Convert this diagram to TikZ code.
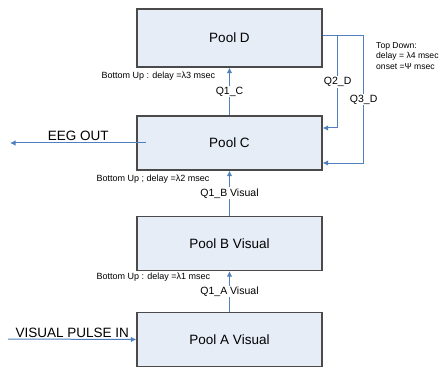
\documentclass[tikz,border=0pt]{standalone}
\usepackage{fontspec}
\setmainfont{Liberation Sans}
\usepackage{tikz}
\usetikzlibrary{positioning,arrows.meta}
\definecolor{poolfill}{HTML}{E6EDF7}
\definecolor{poolline}{HTML}{4A4A4A}
\definecolor{flowblue}{HTML}{4F7FBF}
\tikzset{
  pool/.style={draw=poolline, fill=poolfill, line width=1.3pt, minimum width=185pt, minimum height=54pt, inner sep=0pt, font=\fontsize{13.5}{16}\selectfont},
  feed/.style={draw=flowblue, line width=1pt, -{Latex[length=5.5pt,width=5.5pt]}},
  qlabel/.style={fill=white, inner sep=1pt, font=\fontsize{10.5}{12}\selectfont},
  delaynote/.style={anchor=north west, inner sep=0pt, align=left, font=\fontsize{9}{10.5}\selectfont},
  iolabel/.style={above, inner sep=1.5pt, font=\fontsize{13.5}{16}\selectfont}
}

\begin{document}
\begin{tikzpicture}[x=1pt, y=1pt]
  \useasboundingbox (0,0) rectangle (443,367);

  % pools, bottom to top
  \node[pool] (poolA) at (229.5,27.5) {Pool A Visual};
  \node[pool] (poolB) at (229.5,123.5) {Pool B Visual};
  \node[pool] (poolC) at (229.5,224) {Pool C};
  \node[pool, minimum height=58pt] (poolD) at (229.5,329) {Pool D};

  % bottom up
  \draw[feed] (poolA) -- node[qlabel] {Q1\_A Visual} (poolB);
  \draw[feed] (poolB) -- node[qlabel] {Q1\_B Visual} (poolC);
  \draw[feed] (poolC) -- node[qlabel] {Q1\_C} (poolD);
  \node[delaynote] (delayB) at ([xshift=-40pt,yshift=-2pt]poolB.south west) {Bottom Up : delay =λ1 msec};
  \node[delaynote] (delayC) at ([xshift=-40pt,yshift=-4pt]poolC.south west) {Bottom Up ; delay =λ2 msec};
  \node[delaynote] (delayD) at ([xshift=-35pt,yshift=-4pt]poolD.south west) {Bottom Up : delay =λ3 msec};

  % top down
  \coordinate (topout) at ([yshift=2pt]poolD.east);
  \draw[feed] (topout) -- ++(15,0) |- node[qlabel, pos=0.25] {Q2\_D} ([yshift=15pt]poolC.east);
  \draw[feed] (topout) -- ++(41,0) |- node[qlabel, pos=0.25] {Q3\_D} ([yshift=-20pt]poolC.east);
  \node[delaynote, font=\fontsize{8.6}{10.8}\selectfont] (topnote) at (376,325) {Top Down:\\delay = λ4 msec\\onset =Ψ msec};

  % in and out
  \coordinate (pulsein) at (8,28);
  \coordinate (eegout) at (10,224);
  \draw[feed] (pulsein) -- node[iolabel] {VISUAL PULSE IN} (poolA.west);
  \draw[feed] ([xshift=10pt]poolC.west) -- node[iolabel] {EEG OUT} (eegout);
\end{tikzpicture}
\end{document}
